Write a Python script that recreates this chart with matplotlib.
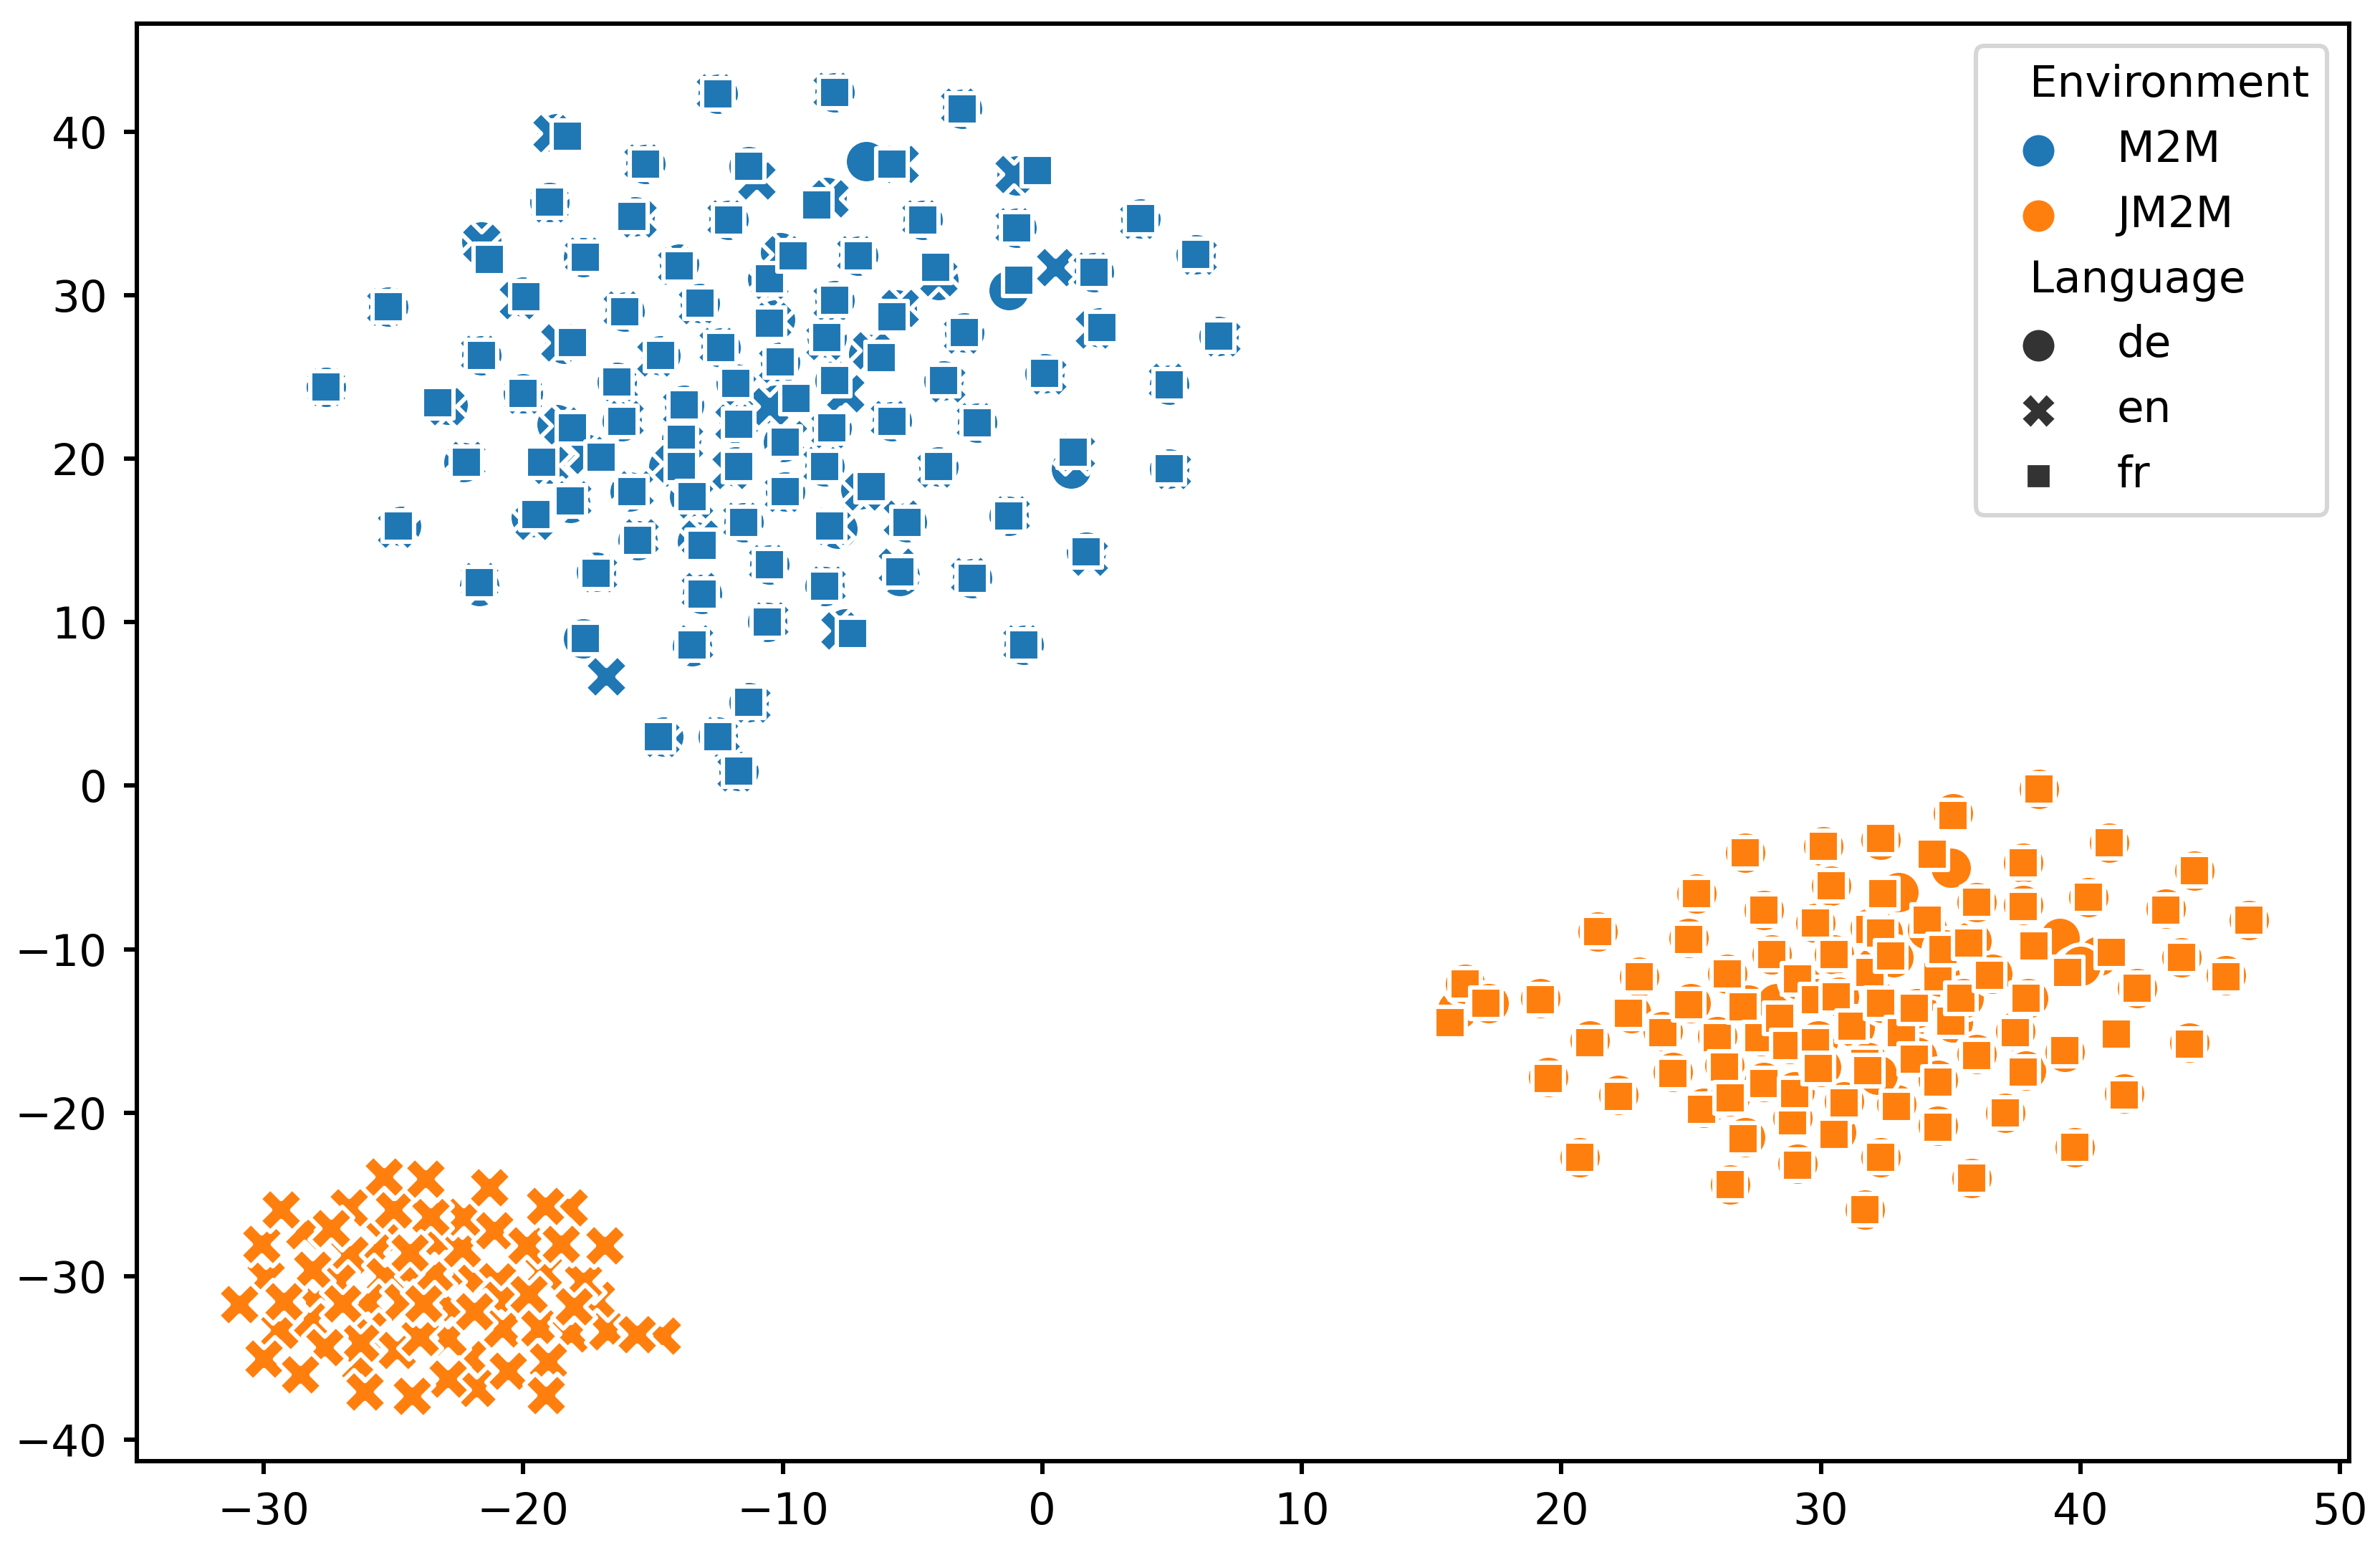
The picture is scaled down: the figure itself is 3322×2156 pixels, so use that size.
import matplotlib
matplotlib.use("Agg")
import matplotlib.pyplot as plt
from matplotlib.lines import Line2D
from matplotlib.legend_handler import HandlerLine2D

BLUE = "#1f77b4"
ORANGE = "#ff7f0e"
GRAY = "#333333"
CIRCLE, CROSS, SQUARE = "o", "X", (4, 0, 45)

m2m_de_x = [-27.6,-22.9,-25.2,-21.6,-21.6,-22.3,-24.7,-21.7,-20.0,-20.0,-19.0,-19.7,-19.0,-18.7,-17.7,-18.4,-18.7,-18.2,-17.6,-17.2,-17.7,
            -15.3,-15.7,-16.1,-16.4,-16.2,-15.9,-15.6,-14.6,-14.7,-14.0,-13.8,-13.9,-14.4,-13.6,-13.2,-13.3,-13.5,-13.1,-12.5,-12.4,-12.1,-12.5,-11.7,-11.8,-11.7,-11.8,-11.5,-11.3,
            -10.6,-10.3,-10.5,-10.6,-11.3,-10.1,-10.0,-9.9,-10.1,-10.3,-8.3,-8.3,-8.4,-8.4,-7.9,-8.0,-8.0,-8.0,-8.1,-7.6,-7.1,-7.0,-6.7,-5.6,-6.8,-5.8,-5.5,-5.2,-4.6,-4.0,-4.0,-3.8,-3.1,-3.0,-2.7,-2.5,
            -1.3,-1.0,-1.3,-0.7,-1.0,0.1,1.1,1.7,2.0,2.2,3.8,4.9,4.9,5.9,6.8]
m2m_de_y = [24.4,23.3,29.3,33.3,26.3,19.8,15.9,12.2,29.9,24.0,19.7,16.4,35.7,39.9,32.3,27.0,22.1,17.3,20.3,13.1,9.0,
            38.0,34.8,29.0,24.7,22.3,18.0,15.0,3.0,26.3,31.9,23.3,21.2,19.5,17.7,29.5,14.9,8.5,11.7,42.3,26.8,34.6,3.0,0.9,24.6,22.1,19.5,16.1,37.9,
            31.0,28.5,13.5,10.0,5.1,25.9,21.0,18.0,32.6,23.3,36.0,27.4,19.5,12.2,15.7,42.4,29.7,24.8,21.9,9.6,32.4,18.1,26.4,29.1,38.2,22.3,12.8,16.1,34.6,30.9,19.5,24.8,41.4,27.7,12.7,22.2,
            16.5,34.1,30.3,8.6,37.3,25.2,19.4,14.3,31.4,28.0,34.7,24.5,19.4,32.5,27.5]

m2m_en_x = [-27.6,-23.0,-25.3,-21.6,-21.7,-22.2,-24.9,-21.7,-20.2,-20.0,-19.0,-19.6,-19.0,-18.9,-17.7,-18.6,-18.5,-18.1,-17.5,-17.1,-16.8,
            -15.4,-15.6,-16.2,-16.3,-16.1,-15.7,-15.5,-14.7,-14.9,-14.1,-13.9,-13.8,-14.2,-13.4,-13.3,-13.2,-13.4,-13.2,-12.6,-12.5,-12.2,-12.4,-11.8,-11.7,-11.9,-12.0,-11.6,-11.0,
            -10.5,-10.4,-10.6,-10.5,-11.2,-10.2,-9.8,-10.0,-10.0,-10.5,-8.2,-8.4,-8.5,-8.3,-8.1,-8.1,-8.1,-7.6,-8.2,-7.8,-7.2,-6.9,-6.6,-5.5,-5.5,-5.9,-5.6,-5.4,-4.7,-4.0,-4.1,-3.7,-3.2,-3.1,-2.8,-2.6,
            -1.2,-1.1,0.5,-0.8,-1.1,0.2,1.3,1.8,1.9,2.0,3.7,4.8,5.0,6.0,6.9]
m2m_en_y = [24.4,23.2,29.3,33.2,26.4,19.9,15.7,12.5,29.7,23.9,19.6,16.2,35.6,39.9,32.4,27.1,22.0,17.5,20.2,13.0,6.7,
            38.1,34.7,29.1,24.6,22.4,18.1,15.2,2.9,26.2,31.8,23.1,21.0,19.7,17.5,29.4,15.1,8.7,11.9,42.4,26.9,34.7,3.1,0.8,24.3,22.2,19.3,16.2,37.0,
            30.9,28.4,13.6,10.1,5.0,25.8,21.2,17.9,32.5,23.2,35.9,27.2,19.6,12.3,15.9,42.5,29.6,24.0,21.8,9.5,32.5,18.0,26.6,29.2,38.0,22.4,13.4,16.3,34.7,31.1,19.4,24.6,41.5,27.6,12.8,22.3,
            16.6,34.2,31.7,8.7,37.4,25.1,20.4,14.0,31.5,27.9,34.6,24.7,19.3,32.4,27.4]

m2m_fr_x = [-27.6,-23.3,-25.2,-21.3,-21.6,-22.2,-24.8,-21.7,-19.9,-20.0,-19.3,-19.5,-19.0,-18.3,-17.6,-18.1,-18.1,-18.2,-17.0,-17.2,-17.6,
            -15.3,-15.8,-16.1,-16.4,-16.2,-15.8,-15.6,-14.8,-14.7,-14.0,-13.8,-13.9,-13.9,-13.5,-13.2,-13.1,-13.5,-13.1,-12.5,-12.4,-12.1,-12.5,-11.7,-11.8,-11.7,-11.7,-11.5,-11.3,
            -10.5,-10.5,-10.5,-10.6,-11.3,-10.1,-9.9,-9.9,-9.6,-9.5,-8.7,-8.3,-8.4,-8.4,-8.2,-8.0,-8.0,-8.0,-8.1,-7.3,-7.1,-6.6,-6.2,-5.8,-5.8,-5.8,-5.5,-5.2,-4.6,-4.1,-4.0,-3.8,-3.1,-3.0,-2.7,-2.5,
            -1.3,-1.0,-0.9,-0.7,-0.2,0.1,1.2,1.7,2.0,2.3,3.8,4.9,4.9,5.9,6.8]
m2m_fr_y = [24.4,23.4,29.3,32.2,26.3,19.8,15.9,12.4,29.9,24.0,19.8,16.6,35.7,39.7,32.3,27.1,21.9,17.4,20.1,13.0,9.0,
            38.0,34.8,29.0,24.7,22.3,18.0,15.0,3.0,26.3,31.8,23.3,21.2,19.5,17.7,29.5,14.7,8.6,11.7,42.3,26.8,34.6,3.0,0.9,24.6,22.1,19.5,16.1,37.9,
            31.0,28.3,13.5,10.0,5.1,25.9,21.0,18.0,32.4,23.7,35.5,27.4,19.5,12.2,15.9,42.4,29.7,24.8,21.9,9.3,32.4,18.3,26.2,28.7,38.0,22.3,13.1,16.1,34.6,31.7,19.5,24.8,41.4,27.7,12.7,22.2,
            16.5,34.1,30.9,8.6,37.6,25.2,20.4,14.3,31.4,28.0,34.7,24.5,19.4,32.5,27.5]

jm2m_de_x = [16.0,16.3,17.2,19.2,19.5,20.7,21.1,21.4,22.2,22.7,23.0,23.9,24.3,24.9,25.2,25.0,25.5,26.0,26.4,26.3,26.5,26.5,27.1,27.2,27.1,27.8,27.7,27.8,28.1,28.3,28.8,28.9,29.0,29.1,29.2,29.9,29.8,29.9,30.0,30.1,30.4,30.5,30.7,30.6,30.9,31.3,31.7,31.8,31.9,32.1,32.3,32.4,32.3,33.0,32.4,32.8,32.9,33.2,32.2,33.7,33.7,35.0,34.1,34.6,34.5,34.5,34.8,35.1,35.1,35.5,35.8,35.8,36.0,36.0,36.6,37.1,37.5,37.8,37.9,37.8,38.0,39.2,38.4,39.4,39.8,39.8,40.3,40.8,41.1,40.7,40.0,41.7,42.2,43.3,43.9,44.2,44.4,45.6,46.5]
jm2m_de_y = [-13.7,-12.1,-13.3,-13.0,-17.8,-22.7,-15.6,-8.9,-18.9,-13.9,-11.7,-15.0,-17.5,-9.3,-6.6,-13.3,-19.7,-15.3,-11.5,-17.1,-19.0,-24.4,-21.5,-13.4,-4.1,-7.6,-15.3,-18.1,-10.3,-13.3,-15.8,-20.3,-18.7,-23.1,-11.9,-13.0,-8.4,-15.6,-17.2,-3.7,-6.1,-10.3,-12.9,-21.2,-19.3,-14.8,-25.9,-16.9,-8.7,-11.0,-3.3,-13.3,-22.7,-6.5,-9.0,-10.5,-19.5,-15.0,-17.7,-16.6,-13.6,-5.0,-8.8,-11.7,-18.0,-20.8,-10.0,-1.7,-14.5,-13.0,-9.5,-24.0,-16.4,-7.1,-11.5,-20.0,-15.0,-4.7,-17.4,-7.3,-13.0,-9.3,-0.2,-16.3,-11.2,-22.1,-6.8,-10.5,-3.5,-10.4,-11.0,-18.8,-12.4,-7.5,-10.5,-15.7,-5.2,-11.6,-8.2]

jm2m_en_x = [-25.33,-26.71,-28.44,-25.74,-26.68,-24.52,-25.33,-27.2,-22.35,-23.44,-21.81,-21.0,-19.25,-26.0,-22.76,-20.87,-17.2,-28.03,-24.65,-26.0,-26.28,-22.08,-22.9,-20.8,-19.38,-24.86,-28.24,-23.44,-23.98,-21.81,-22.35,
             -18.23,-17.69,-29.93,-18.16,-16.74,-14.65,-28.14,-26.28,-27.65,-29.39,-29.99,-28.6,-22.29,-21.11,-19.88,-25.02,-23.57,-27.4,-30.1,-18.54,-16.85,-24.38,-22.9,-29.22,-26.98,-23.84,-21.88,-19.79,-18.06,-15.62,-30.94,-20.6,-19.04,-26.11,-24.29,-19.14,-25.36,-23.76,-21.31,-29.34,-19.16]
jm2m_en_y = [-27.65,-25.78,-27.21,-28.53,-28.67,-29.69,-29.99,-30.4,-29.84,-27.94,-30.28,-30.28,-29.69,-31.59,-31.88,-31.45,-31.45,-31.59,-31.59,-33.34,-35.39,-34.95,-33.78,-33.2,-33.2,-34.51,-32.76,-29.84,-33.71,-36.85,-28.28,
             -25.78,-30.28,-30.13,-33.49,-33.39,-33.64,-29.58,-34.07,-34.34,-33.27,-35.02,-36.0,-26.34,-27.18,-28.09,-25.9,-26.34,-27.04,-28.02,-28.02,-28.13,-28.53,-36.26,-31.52,-31.64,-31.64,-32.13,-31.11,-31.84,-33.53,-31.71,-35.8,-35.21,-37.04,-37.33,-37.29,-23.9,-24.04,-24.58,-25.93,-25.72]

jm2m_fr_x = [15.7,16.3,17.1,19.2,19.5,20.7,21.1,21.4,22.2,22.6,23.0,23.9,24.3,24.9,25.2,24.9,25.4,26.0,26.4,26.3,26.5,26.5,27.0,27.0,27.1,27.8,27.6,27.8,28.1,28.4,28.7,28.9,29.0,29.1,29.1,29.8,29.8,29.8,29.9,30.1,30.4,30.5,30.6,30.5,30.9,31.2,31.7,31.7,31.9,31.9,32.3,32.3,32.3,32.4,32.3,32.7,32.9,33.1,31.8,33.6,33.6,34.3,34.1,34.5,34.5,34.5,34.7,35.1,35.0,35.4,35.7,35.8,36.0,36.0,36.5,37.1,37.5,37.8,37.8,37.8,37.9,38.2,38.4,39.4,39.5,39.8,40.3,41.2,41.1,41.2,41.4,41.7,42.2,43.3,43.9,44.2,44.4,45.6,46.5]
jm2m_fr_y = [-14.5,-12.1,-13.3,-13.1,-17.9,-22.7,-15.7,-8.9,-19.0,-13.9,-11.7,-15.1,-17.6,-9.4,-6.6,-13.4,-19.8,-15.4,-11.5,-17.2,-19.1,-24.4,-21.6,-13.5,-4.1,-7.6,-15.4,-18.2,-10.3,-14.2,-15.9,-20.5,-18.8,-23.2,-11.8,-13.1,-8.4,-15.7,-17.3,-3.7,-6.1,-10.3,-12.9,-21.3,-19.4,-14.7,-25.9,-17.0,-8.8,-11.4,-3.2,-13.3,-22.7,-6.6,-9.0,-10.4,-19.6,-15.1,-17.4,-16.7,-13.6,-4.2,-8.2,-11.7,-18.1,-20.9,-10.0,-1.8,-14.4,-13.0,-9.6,-24.0,-16.5,-7.1,-11.6,-20.0,-15.1,-4.7,-17.5,-7.4,-13.0,-9.8,-0.2,-16.2,-11.4,-22.1,-6.8,-10.2,-3.5,-10.2,-15.2,-18.9,-12.4,-7.6,-10.5,-15.8,-5.2,-11.7,-8.2]

env_labels = ["M2M", "JM2M"]
lang_labels = ["de", "en", "fr"]
x_ticks = [-30, -20, -10, 0, 10, 20, 30, 40, 50]
y_ticks = [-40, -30, -20, -10, 0, 10, 20, 30, 40]

DPI = 440
fig = plt.figure(figsize=(3322 / DPI, 2156 / DPI), dpi=DPI)
ax = fig.add_axes([191 / 3322, 1 - 2039 / 2156, (3279 - 191) / 3322, (2039 - 33) / 2156])

layers = [
    (m2m_de_x, m2m_de_y, BLUE, CIRCLE), (jm2m_de_x, jm2m_de_y, ORANGE, CIRCLE),
    (m2m_en_x, m2m_en_y, BLUE, CROSS), (jm2m_en_x, jm2m_en_y, ORANGE, CROSS),
    (m2m_fr_x, m2m_fr_y, BLUE, SQUARE), (jm2m_fr_x, jm2m_fr_y, ORANGE, SQUARE),
]
for xs, ys, color, marker in layers:
    ax.scatter(xs, ys, s=100, c=color, marker=marker, edgecolors="white", linewidths=1.0)

ax.set_xlim(-34.89, 50.36)
ax.set_ylim(-41.3, 46.6)
ax.set_xticks(x_ticks)
ax.set_yticks(y_ticks)
ax.tick_params(length=3.0, width=1.0, pad=3.8)
for spine in ax.spines.values():
    spine.set_linewidth(1.0)


class LoweredHandler(HandlerLine2D):
    """Legend marker sitting slightly below the text's mid-height."""

    def create_artists(self, *args, **kwargs):
        artists = super().create_artists(*args, **kwargs)
        for artist in artists:
            artist.set_ydata([y - 0.85 for y in artist.get_ydata()])
        return artists


def proxy(color, marker, size):
    return Line2D([], [], ls="", marker=marker, color=color, markersize=size,
                  markeredgecolor="white", markeredgewidth=0.2)


blank = Line2D([], [], ls="", alpha=0)
handles = [blank, proxy(BLUE, CIRCLE, 7.4), proxy(ORANGE, CIRCLE, 7.4),
           blank, proxy(GRAY, CIRCLE, 7.4), proxy(GRAY, CROSS, 7.4), proxy(GRAY, SQUARE, 7.4)]
labels = ["Environment"] + env_labels + ["Language"] + lang_labels
leg = ax.legend(handles, labels, loc="upper right", framealpha=0.8, labelspacing=0.52,
                borderpad=0.42, handler_map={Line2D: LoweredHandler()})
leg.get_frame().set_linewidth(1.0)

# Section titles sit flush left, with no handle column.
column = leg._legend_handle_box.get_children()[0]
for row, label in zip(column.get_children(), labels):
    if label in ("Environment", "Language"):
        row.get_children()[0].set_width(0)

fig.savefig("out.png", dpi=DPI)
